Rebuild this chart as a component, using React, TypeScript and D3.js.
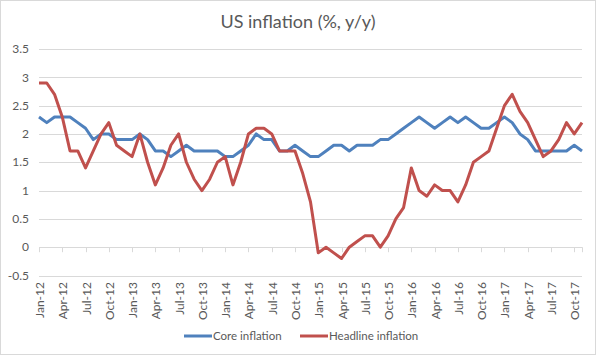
import React from "react";
import * as d3 from "d3";

const categories: string[] = [
  "Jan-12","Feb-12","Mar-12","Apr-12","May-12","Jun-12","Jul-12","Aug-12","Sep-12","Oct-12","Nov-12","Dec-12",
  "Jan-13","Feb-13","Mar-13","Apr-13","May-13","Jun-13","Jul-13","Aug-13","Sep-13","Oct-13","Nov-13","Dec-13",
  "Jan-14","Feb-14","Mar-14","Apr-14","May-14","Jun-14","Jul-14","Aug-14","Sep-14","Oct-14","Nov-14","Dec-14",
  "Jan-15","Feb-15","Mar-15","Apr-15","May-15","Jun-15","Jul-15","Aug-15","Sep-15","Oct-15","Nov-15","Dec-15",
  "Jan-16","Feb-16","Mar-16","Apr-16","May-16","Jun-16","Jul-16","Aug-16","Sep-16","Oct-16","Nov-16","Dec-16",
  "Jan-17","Feb-17","Mar-17","Apr-17","May-17","Jun-17","Jul-17","Aug-17","Sep-17","Oct-17","Nov-17",
];

const coreInflation: number[] = [
  2.3, 2.2, 2.3, 2.3, 2.3, 2.2, 2.1, 1.9, 2.0, 2.0, 1.9, 1.9,
  1.9, 2.0, 1.9, 1.7, 1.7, 1.6, 1.7, 1.8, 1.7, 1.7, 1.7, 1.7,
  1.6, 1.6, 1.7, 1.8, 2.0, 1.9, 1.9, 1.7, 1.7, 1.8, 1.7, 1.6,
  1.6, 1.7, 1.8, 1.8, 1.7, 1.8, 1.8, 1.8, 1.9, 1.9, 2.0, 2.1,
  2.2, 2.3, 2.2, 2.1, 2.2, 2.3, 2.2, 2.3, 2.2, 2.1, 2.1, 2.2,
  2.3, 2.2, 2.0, 1.9, 1.7, 1.7, 1.7, 1.7, 1.7, 1.8, 1.7,
];

const headlineInflation: number[] = [
  2.9, 2.9, 2.7, 2.3, 1.7, 1.7, 1.4, 1.7, 2.0, 2.2, 1.8, 1.7,
  1.6, 2.0, 1.5, 1.1, 1.4, 1.8, 2.0, 1.5, 1.2, 1.0, 1.2, 1.5,
  1.6, 1.1, 1.5, 2.0, 2.1, 2.1, 2.0, 1.7, 1.7, 1.7, 1.3, 0.8,
  -0.1, 0.0, -0.1, -0.2, 0.0, 0.1, 0.2, 0.2, 0.0, 0.2, 0.5, 0.7,
  1.4, 1.0, 0.9, 1.1, 1.0, 1.0, 0.8, 1.1, 1.5, 1.6, 1.7, 2.1,
  2.5, 2.7, 2.4, 2.2, 1.9, 1.6, 1.7, 1.9, 2.2, 2.0, 2.2,
];

const tickLabels: string[] = [
  "Jan-12","Apr-12","Jul-12","Oct-12","Jan-13","Apr-13","Jul-13","Oct-13",
  "Jan-14","Apr-14","Jul-14","Oct-14","Jan-15","Apr-15","Jul-15","Oct-15",
  "Jan-16","Apr-16","Jul-16","Oct-16","Jan-17","Apr-17","Jul-17","Oct-17",
];

const yTicks: number[] = [-0.5, 0, 0.5, 1, 1.5, 2, 2.5, 3, 3.5];

const W = 596;
const H = 356;
const FONT = "Lato, 'Open Sans', sans-serif";
const TEXT = "#595959";
const GRID = "#d9d9d9";
const BLUE = "#4f81bd";
const RED = "#c0504d";

export default function App() {
  const x = d3.scalePoint<string>().domain(categories).range([39, 582]);
  const y = d3.scaleLinear().domain([-0.5, 3.5]).range([275.5, 49]);

  const line = d3
    .line<number>()
    .x((_, i) => x(categories[i]) as number)
    .y((d) => y(d));

  const y0 = y(0);

  return (
    <svg
      width={W}
      height={H}
      style={{ position: "absolute", left: 0, top: 0, background: "#fff" }}
      fontFamily={FONT}
    >
      <rect x={0.5} y={0.5} width={W - 1} height={H - 2} fill="#fff" stroke={GRID} />
      <text x={298} y={28} textAnchor="middle" fontSize={18} fill={TEXT}>
        US inflation (%, y/y)
      </text>
      {yTicks.map((t) => (
        <g key={t}>
          {t !== 0 && (
            <line x1={39} x2={582} y1={Math.round(y(t)) + 0.5} y2={Math.round(y(t)) + 0.5} stroke={GRID} strokeWidth={1} />
          )}
          <text x={29} y={y(t)} dy="0.35em" textAnchor="end" fontSize={12} fill={TEXT}>
            {String(t)}
          </text>
        </g>
      ))}
      <line x1={39} x2={582} y1={Math.round(y0) + 0.5} y2={Math.round(y0) + 0.5} stroke={GRID} />
      {tickLabels.map((lab) => {
        const px = Math.round(x(lab) as number) + 0.5;
        return (
          <g key={lab}>
            <line x1={px} x2={px} y1={y0} y2={y0 + 5} stroke={GRID} />
            <text
              transform={`translate(${px + 4},282) rotate(-90)`}
              textAnchor="end"
              fontSize={12}
              fill={TEXT}
            >
              {lab}
            </text>
          </g>
        );
      })}
      <line x1={582.5} x2={582.5} y1={y0} y2={y0 + 5} stroke={GRID} />
      <path d={line(coreInflation) || ""} fill="none" stroke={BLUE} strokeWidth={3} strokeLinejoin="round" />
      <path d={line(headlineInflation) || ""} fill="none" stroke={RED} strokeWidth={3} strokeLinejoin="round" />
      <g>
        <line x1={184} x2={212} y1={336} y2={336} stroke={BLUE} strokeWidth={3} />
        <text x={213} y={336} dy="0.35em" fontSize={11.5} fill={TEXT}>
          Core inflation
        </text>
        <line x1={300} x2={328} y1={336} y2={336} stroke={RED} strokeWidth={3} />
        <text x={329} y={336} dy="0.35em" fontSize={11.5} fill={TEXT}>
          Headline inflation
        </text>
      </g>
    </svg>
  );
}
